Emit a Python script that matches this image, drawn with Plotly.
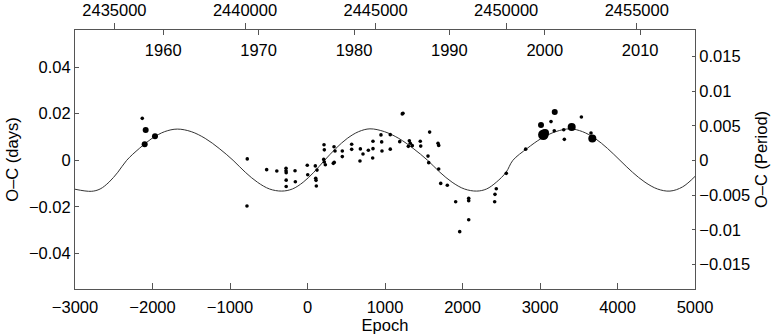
import plotly.graph_objects as go

# O-C measurements: epoch, O-C in days, and relative weight (marker class)
epoch = [
    -2132, -2088, -2101, -1968,
    -777, -781, -527, -396, -277, -277, -275, -275, -275, -161, -157,
    -3, 3, 101, 106, 110, 114, 123, 213, 217, 209, 217, 230,
    342, 355, 333, 345, 449, 449, 570, 570, 682, 716, 677, 785,
    845, 845, 841, 948, 957, 961, 1068, 1068, 1190, 1223, 1232,
    1314, 1326, 1301, 1352, 1455, 1461, 1576, 1555, 1564,
    1684, 1693, 1693, 1719, 1804, 1912, 1964, 2080, 2080, 2080,
    2436, 2419, 2415, 2565, 2815,
    3013, 3043, 3065, 3142, 3184, 3190, 3306, 3314, 3409, 3534, 3658, 3675,
]
oc_days = [
    0.0180, 0.0130, 0.0069, 0.0103,
    0.0006, -0.0196, -0.0040, -0.0046, -0.0034, -0.0045, -0.0053, -0.0085, -0.0112, -0.0045, -0.0092,
    -0.0021, -0.0062, -0.0024, -0.0077, -0.0086, -0.0110, -0.0042, 0.0067, 0.0045, 0.0004, -0.0007, -0.0019,
    0.0058, 0.0040, -0.0013, -0.0009, 0.0040, 0.0016, 0.0069, 0.0047, 0.0049, 0.0027, -0.0003, 0.0043,
    0.0082, 0.0050, 0.0010, 0.0109, 0.0079, 0.0040, 0.0110, 0.0048, 0.0080, 0.0199, 0.0202,
    0.0084, 0.0073, 0.0060, 0.0063, 0.0082, 0.0061, 0.0121, 0.0018, -0.0010,
    0.0073, 0.0064, -0.0037, -0.0099, -0.0107, -0.0178, -0.0306, -0.0163, -0.0173, -0.0255,
    -0.0122, -0.0146, -0.0178, -0.0056, 0.0048,
    0.0151, 0.0110, 0.0117, 0.0166, 0.0127, 0.0207, 0.0131, 0.0090, 0.0143, 0.0186, 0.0117, 0.0094,
]
weight = [
    1, 2, 2, 2,
    1, 1, 1, 1, 1, 1, 1, 1, 1, 1, 1,
    1, 1, 1, 1, 1, 1, 1, 1, 1, 1, 1, 1,
    1, 1, 1, 1, 1, 1, 1, 1, 1, 1, 1, 1,
    1, 1, 1, 1, 1, 1, 1, 1, 1, 1, 1,
    1, 1, 1, 1, 1, 1, 1, 1, 1,
    1, 1, 1, 1, 1, 1, 1, 1, 1, 1,
    1, 1, 1, 1, 1,
    2, 4, 3, 1, 1, 2, 1, 1, 3, 1, 1, 3,
]

# fitted curve, sampled off the figure
fit_epoch = [
    -3000, -2790, -2676, -2562, -2447, -2333, -2170, -2007, -1843, -1680,
    -1500, -1320, -1140, -960, -803, -646, -490, -333,
    -195, -56, 82, 220, 366, 513, 660, 806,
    992, 1178, 1364, 1550, 1708, 1866, 2025, 2183,
    2310, 2436, 2563, 2650, 2834, 3018, 3203, 3387,
    3548, 3710, 3871, 4032, 4193, 4355, 4516, 4677, 4840, 5000,
]
fit_oc = [
    -0.0124, -0.0133, -0.0123, -0.0094, -0.0051, 0.0, 0.0051, 0.0094, 0.0123, 0.0134,
    0.0123, 0.0094, 0.0051, 0.0, -0.0051, -0.0094, -0.0123, -0.0132,
    -0.0123, -0.0094, -0.0051, 0.0, 0.0051, 0.0094, 0.0123, 0.0135,
    0.0123, 0.0094, 0.0051, 0.0, -0.0051, -0.0094, -0.0123, -0.0132,
    -0.0123, -0.0094, -0.0051, 0.0, 0.0051, 0.0094, 0.0123, 0.0135,
    0.0123, 0.0094, 0.0051, 0.0, -0.0051, -0.0094, -0.0123, -0.0132, -0.0114, -0.0069,
]

# axis ranges
epoch_range = [-3000, 5000]
jd_range = [2433490, 2457230]
year_range = [1950.75, 2015.75]
days_range = [-0.0552, 0.0559]
period_range = [-0.01853, 0.01882]

size_map = {1: 3.6, 2: 6, 3: 8, 4: 10.5}
FONT = 'Liberation Sans, Arial, sans-serif'
AXIS_COLOR = '#555555'

fig = go.Figure()

fig.add_trace(go.Scatter(
    x=fit_epoch, y=fit_oc, mode='lines',
    line=dict(color='#333333', width=1, shape='spline', smoothing=1.0),
    showlegend=False, hoverinfo='skip'
))

# array sizes make plotly treat this as a bubble chart (opacity 0.7), so force 1
fig.add_trace(go.Scatter(
    x=epoch, y=oc_days, mode='markers',
    marker=dict(color='black', opacity=1, size=[size_map[w] for w in weight], line=dict(width=0)),
    showlegend=False
))

# empty traces so that the extra axes get drawn
fig.add_trace(go.Scatter(x=[], y=[], xaxis='x2', yaxis='y', showlegend=False, hoverinfo='skip'))
fig.add_trace(go.Scatter(x=[], y=[], xaxis='x3', yaxis='y', showlegend=False, hoverinfo='skip'))
fig.add_trace(go.Scatter(x=[], y=[], xaxis='x', yaxis='y2', showlegend=False, hoverinfo='skip'))

tick_font = dict(family=FONT, size=16.5, color='black')

fig.update_layout(
    width=777, height=335, autosize=False,
    margin=dict(l=75, r=82, t=30, b=46),
    plot_bgcolor='white', paper_bgcolor='white',
    font=dict(family=FONT, size=16.5, color='black'),
    xaxis=dict(
        range=epoch_range, dtick=1000, tickformat='d', automargin=False,
        showgrid=False, zeroline=False,
        showline=True, linecolor=AXIS_COLOR, linewidth=1,
        ticks='inside', ticklen=6, tickcolor=AXIS_COLOR,
        tickfont=tick_font, ticklabelstandoff=3,
        title=dict(text='Epoch', font=tick_font, standoff=0),
    ),
    xaxis2=dict(
        range=jd_range, overlaying='x', side='top', automargin=False,
        tickvals=[2435000, 2440000, 2445000, 2450000, 2455000], tickformat='d',
        showgrid=False, zeroline=False,
        showline=True, linecolor=AXIS_COLOR, linewidth=1,
        ticks='outside', ticklen=6, tickcolor=AXIS_COLOR,
        tickfont=tick_font,
    ),
    xaxis3=dict(
        range=year_range, overlaying='x', side='top', automargin=False,
        tickvals=[1960, 1970, 1980, 1990, 2000, 2010], tickformat='d',
        showgrid=False, zeroline=False, showline=False,
        ticks='inside', ticklen=5, tickcolor=AXIS_COLOR,
        ticklabelposition='inside', ticklabelstandoff=10,
        tickfont=tick_font,
    ),
    yaxis=dict(
        range=days_range, dtick=0.02, automargin=False,
        showgrid=False, zeroline=False,
        showline=True, linecolor=AXIS_COLOR, linewidth=1,
        ticks='inside', ticklen=4, tickcolor=AXIS_COLOR,
        tickfont=tick_font,
        title=dict(text='O\u2013C (days)', font=tick_font, standoff=6),
    ),
    yaxis2=dict(
        range=period_range, overlaying='y', side='right', automargin=False,
        tickvals=[-0.015, -0.01, -0.005, 0, 0.005, 0.01, 0.015],
        showgrid=False, zeroline=False,
        showline=True, linecolor=AXIS_COLOR, linewidth=1,
        ticks='inside', ticklen=3, tickcolor=AXIS_COLOR,
        tickfont=tick_font,
        title=dict(text='O\u2013C (Period)', font=tick_font, standoff=6),
    ),
)

# drop the default page margin so the figure sits at the window corner
fig.write_html(
    "out.html",
    config={'displayModeBar': False},
    post_script="document.body.style.margin='0px';",
)
